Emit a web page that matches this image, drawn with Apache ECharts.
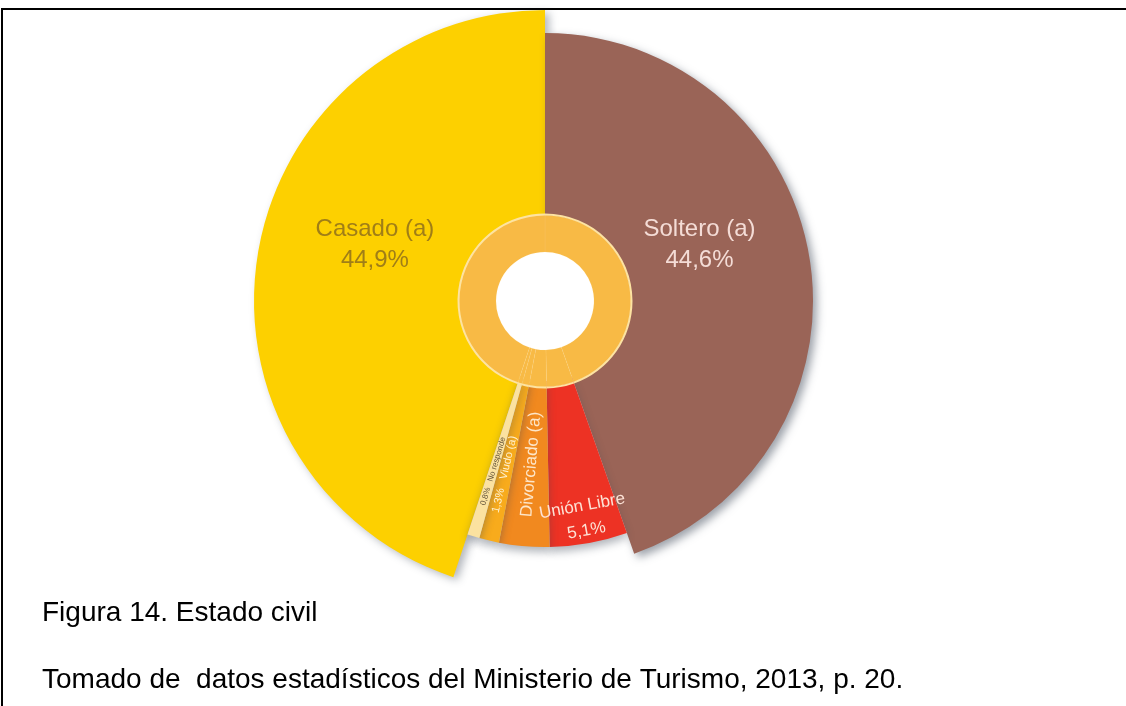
<!DOCTYPE html>
<html lang="es">
<head>
<meta charset="utf-8">
<title>Estado civil</title>
<script src="https://cdn.jsdelivr.net/npm/echarts@6.0.0/dist/echarts.min.js"></script>
<style>
  html, body { margin: 0; padding: 0; background: #ffffff; }
  #frame {
    position: absolute; left: 1px; top: 8px; width: 1125px; height: 698px;
    border-top: 2px solid #000; border-left: 2px solid #000; box-sizing: border-box;
  }
  #chart { position: absolute; left: 0; top: 0; width: 1126px; height: 706px; }
</style>
</head>
<body>
<div id="frame"></div>
<div id="chart"></div>
<script>
// Estado civil de los encuestados (porcentajes)
const categories = ['Soltero (a)', 'Unión Libre', 'Divorciado (a)', 'Viudo (a)', 'No responde', 'Casado (a)'];
const shares = [44.6, 5.1, 3.3, 1.3, 0.8, 44.9];
const captionLines = [
  'Figura 14. Estado civil',
  'Tomado de  datos estadísticos del Ministerio de Turismo, 2013, p. 20.'
];

const pct = v => v.toFixed(1).replace('.', ',') + '%';

const FONT = '"Liberation Sans", Arial, Helvetica, sans-serif';
const CENTER = [545, 301];
const HIDDEN = 'rgba(0,0,0,0)';

const sliceColor = {
  'Soltero (a)': '#9a6457',
  'Unión Libre': '#ed3224',
  'Divorciado (a)': '#f1891f',
  'Viudo (a)': '#f8ab1c',
  'No responde': '#fbe2a0',
  'Casado (a)': '#fdd000'
};
const smallSlices = ['Unión Libre', 'Divorciado (a)', 'Viudo (a)', 'No responde'];

// one data layer per series: only the listed categories are painted
function layer(visible, itemFn) {
  return categories.map((name, i) => {
    const item = { name, value: shares[i], itemStyle: { color: HIDDEN }, label: { show: false } };
    if (visible.includes(name)) Object.assign(item, itemFn(name, i));
    return item;
  });
}

const base = {
  type: 'pie', center: CENTER, startAngle: 90, clockwise: true,
  silent: true, animation: false, avoidLabelOverlap: false,
  labelLine: { show: false }, emphasis: { disabled: true }, minShowLabelAngle: 0
};

const shadow = (blur, ox, oy, alpha) => ({
  shadowBlur: blur, shadowOffsetX: ox, shadowOffsetY: oy, shadowColor: 'rgba(60,70,85,' + alpha + ')'
});

const bigLabel = (color) => ({
  show: true, position: 'inside', fontFamily: FONT, fontSize: 24, lineHeight: 31, color,
  formatter: p => p.name + '\n' + pct(p.value)
});

const captionStyle = { fontFamily: FONT, fontSize: 28, fontWeight: 'normal', color: '#000' };

const option = {
  backgroundColor: 'transparent',
  title: [
    { text: captionLines[0], left: 42, top: 599, padding: 0, textStyle: captionStyle },
    { text: captionLines[1], left: 42, top: 666, padding: 0, textStyle: captionStyle }
  ],
  series: [
    // Casado
    Object.assign({}, base, {
      radius: [80, 291],
      data: layer(['Casado (a)'], name => ({
        itemStyle: Object.assign({ color: sliceColor[name] }, shadow(8, 4, 3, 0.4)),
        label: bigLabel('#a07e17')
      })),
      labelLayout: () => ({ dx: 16, dy: -26 })
    }),
    // Soltero
    Object.assign({}, base, {
      radius: [80, 268],
      data: layer(['Soltero (a)'], name => ({
        itemStyle: Object.assign({ color: sliceColor[name] }, shadow(9, 4, 4, 0.5)),
        label: bigLabel('#f4dcd6')
      })),
      labelLayout: () => ({ dx: -20, dy: -26 })
    }),
    // small categories
    Object.assign({}, base, {
      radius: [80, 246],
      data: layer(smallSlices, name => ({
        itemStyle: Object.assign({ color: sliceColor[name] }, shadow(9, 0, 5, 0.4))
      }))
    }),
    // inner ring
    Object.assign({}, base, {
      radius: [49, 86],
      data: layer(categories, () => ({
        itemStyle: { color: '#f8ba45', borderColor: 'rgba(255,228,160,0.22)', borderWidth: 0.5 }
      }))
    }),
    Object.assign({}, base, {
      radius: [85.5, 87.5],
      data: layer(categories, () => ({ itemStyle: { color: '#fde3a2' } }))
    }),
    // Divorciado: name along the radius
    Object.assign({}, base, {
      radius: [90, 232],
      data: layer(['Divorciado (a)'], () => ({
        label: {
          show: true, position: 'inside', rotate: 'radial', fontFamily: FONT,
          fontSize: 17, color: '#fde6c9', formatter: '{b}'
        }
      }))
    }),
    // Viudo and No responde: percentage at the outer end, then the name
    Object.assign({}, base, {
      radius: [100, 250],
      data: layer(['Viudo (a)', 'No responde'], name => ({
        label: {
          show: true, position: 'inside', rotate: 'radial', fontFamily: FONT,
          fontSize: name === 'Viudo (a)' ? 11 : 8,
          color: name === 'Viudo (a)' ? '#fff2d2' : '#5f5038',
          formatter: p => pct(p.value) + '   ' + p.name
        }
      }))
    }),
    // Divorciado percentage near the rim
    Object.assign({}, base, {
      radius: [210, 246],
      data: layer(['Divorciado (a)'], () => ({
        label: {
          show: true, position: 'inside', rotate: 'tangential', fontFamily: FONT,
          fontSize: 17, color: '#fde6c9', formatter: p => pct(p.value)
        }
      }))
    }),
    // Unión Libre
    Object.assign({}, base, {
      radius: [190, 246],
      data: layer(['Unión Libre'], () => ({
        label: {
          show: true, position: 'inside', rotate: 'tangential', fontFamily: FONT,
          fontSize: 17, lineHeight: 25, color: '#fde2d6',
          formatter: p => p.name + '\n' + pct(p.value)
        }
      }))
    })
  ]
};

const chart = echarts.init(document.getElementById('chart'), null, { renderer: 'canvas' });
chart.setOption(option);
</script>
</body>
</html>
